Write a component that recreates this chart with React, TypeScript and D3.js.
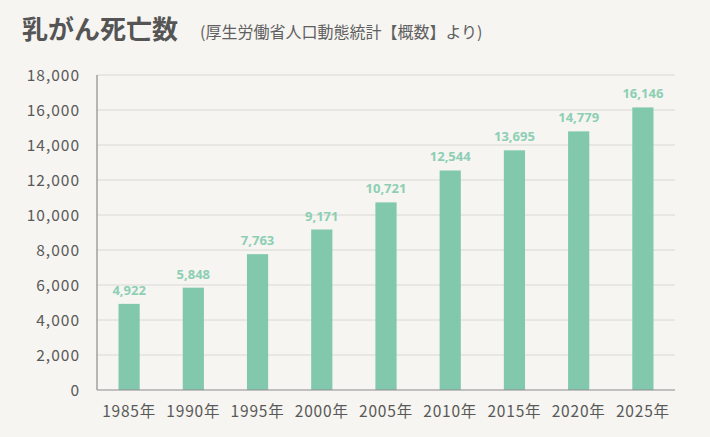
import { scaleBand, scaleLinear, format } from 'd3';

const years = ['1985年', '1990年', '1995年', '2000年', '2005年', '2010年', '2015年', '2020年', '2025年'];
const deaths = [4922, 5848, 7763, 9171, 10721, 12544, 13695, 14779, 16146];
const yTicks = [0, 2000, 4000, 6000, 8000, 10000, 12000, 14000, 16000, 18000];

const width = 710;
const height = 437;
const margin = { top: 75, right: 35, bottom: 47, left: 97 };

const fontJp = '"Noto Sans CJK JP", "Noto Sans", sans-serif';

export default function App() {
  const xScale = scaleBand<string>()
    .domain(years)
    .range([margin.left, width - margin.right])
    .paddingInner(0.67)
    .paddingOuter(0.335);

  const yScale = scaleLinear()
    .domain([0, 18000])
    .range([height - margin.bottom, margin.top]);

  const fmt = format(',');
  const baseY = yScale(0);

  return (
    <div style={{ position: 'fixed', left: 0, top: 0 }}>
      <svg width={width} height={height} viewBox={`0 0 ${width} ${height}`} style={{ display: 'block' }}>
        <rect width={width} height={height} fill="#f6f5f1" />

        <text x={22} y={39} fontFamily={fontJp} fontSize={26} fontWeight="bold" fill="#555555">
          乳がん死亡数
        </text>
        <text x={200} y={38} fontFamily={fontJp} fontSize={16} fill="#606060">
          (厚生労働省人口動態統計【概数】より)
        </text>

        {yTicks.map(tick => (
          <g key={tick}>
            {tick > 0 && (
              <line x1={margin.left} x2={width - margin.right} y1={yScale(tick)} y2={yScale(tick)} stroke="#d9d8d5" strokeWidth={1} />
            )}
            <text x={80} y={yScale(tick) + 5.5} textAnchor="end" fontFamily={fontJp} fontSize={15.5} letterSpacing={1} fill="#595959">
              {fmt(tick)}
            </text>
          </g>
        ))}

        {years.map((year, i) => {
          const x = xScale(year) ?? margin.left;
          const w = xScale.bandwidth();
          const y = yScale(deaths[i]);
          return (
            <g key={year}>
              <rect x={x} y={y} width={w} height={baseY - y} fill="#82c8ad" />
              <text x={x + w / 2} y={y - 9} textAnchor="middle" fontFamily='"Noto Sans", sans-serif' fontSize={13} fontWeight="bold" fill="#8dcfb4">
                {fmt(deaths[i])}
              </text>
              <text x={x + w / 2} y={baseY + 27} textAnchor="middle" fontFamily={fontJp} fontSize={15.5} letterSpacing={0.8} fill="#595959">
                {year}
              </text>
            </g>
          );
        })}

        <line x1={margin.left} x2={margin.left} y1={margin.top} y2={baseY} stroke="#8c8c8c" strokeWidth={1.2} />
        <line x1={margin.left} x2={width - margin.right} y1={baseY} y2={baseY} stroke="#8c8c8c" strokeWidth={1.2} />
      </svg>
    </div>
  );
}
